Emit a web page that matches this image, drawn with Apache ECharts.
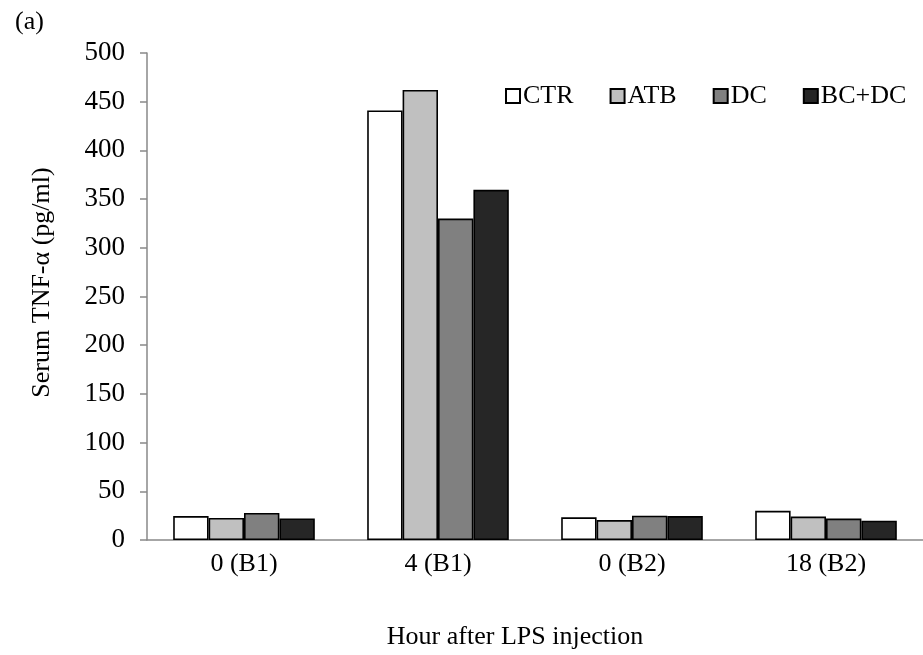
<!DOCTYPE html>
<html>
<head>
<meta charset="utf-8">
<title>Serum TNF-alpha</title>
<script src="https://cdn.jsdelivr.net/npm/echarts@6/dist/echarts.min.js"></script>
<style>
    html, body { margin: 0; padding: 0; background: #fff; }
    #chart { width: 923px; height: 655px; }
</style>
</head>
<body>
<div id="chart"></div>
<script>
var categories = ['0 (B1)', '4 (B1)', '0 (B2)', '18 (B2)'];
var groups = ['CTR', 'ATB', 'DC', 'BC+DC'];
var ctrValues = [24.6, 441, 23.3, 30];
var atbValues = [22.6, 462, 20.5, 24];
var dcValues = [27.7, 330, 25, 22];
var bcdcValues = [22.2, 359.5, 24.6, 19.8];
var yTicks = { min: 0, max: 500, interval: 50 };

var fills = ['#ffffff', '#c0c0c0', '#808080', '#262626'];
var font = '"Liberation Serif", "Times New Roman", serif';

//one bar series per group, bars touching inside a category
function makeSeries(name, values, color) {
    return {
        name: name,
        type: 'bar',
        data: values,
        barGap: '0%',
        barCategoryGap: '27%',
        itemStyle: {
            color: color,
            borderColor: '#000',
            borderWidth: 1.6
        }
    };
}

var chart = echarts.init(document.getElementById('chart'));
var option = {
    animation: false,
    backgroundColor: '#fff',
    textStyle: { fontFamily: font, color: '#000' },
    title: {
        text: '(a)',
        left: 10,
        top: 4,
        textStyle: { fontFamily: font, fontSize: 26, fontWeight: 'normal', color: '#000' }
    },
    legend: {
        data: groups,
        left: 500,
        top: 78,
        icon: 'rect',
        itemWidth: 14,
        itemHeight: 14,
        itemGap: 36,
        textStyle: { fontFamily: font, fontSize: 26, color: '#000', padding: [0, 0, 0, -2] }
    },
    grid: {
        left: 147,
        top: 53,
        width: 777,
        bottom: 115
    },
    xAxis: {
        type: 'category',
        data: categories,
        name: 'Hour after LPS injection',
        nameLocation: 'middle',
        nameGap: 84,
        nameTextStyle: { fontFamily: font, fontSize: 26, color: '#000', padding: [0, 40, 0, 0] },
        axisLine: { lineStyle: { color: '#898989', width: 1.5 } },
        axisTick: { show: false },
        axisLabel: { fontFamily: font, fontSize: 26, color: '#000', margin: 11 }
    },
    yAxis: {
        type: 'value',
        min: yTicks.min,
        max: yTicks.max,
        interval: yTicks.interval,
        name: 'Serum TNF-α (pg/ml)',
        nameLocation: 'middle',
        nameGap: 92,
        nameTextStyle: { fontFamily: font, fontSize: 26, color: '#000', padding: [0, 0, 0, 28] },
        axisLine: { show: true, lineStyle: { color: '#898989', width: 1.5 } },
        axisTick: { show: true, length: 7, lineStyle: { color: '#898989', width: 1.5 } },
        axisLabel: { fontFamily: font, fontSize: 27, color: '#000', margin: 22 },
        splitLine: { show: false }
    },
    series: [
        makeSeries(groups[0], ctrValues, fills[0]),
        makeSeries(groups[1], atbValues, fills[1]),
        makeSeries(groups[2], dcValues, fills[2]),
        makeSeries(groups[3], bcdcValues, fills[3])
    ]
};
chart.setOption(option);
</script>
</body>
</html>
